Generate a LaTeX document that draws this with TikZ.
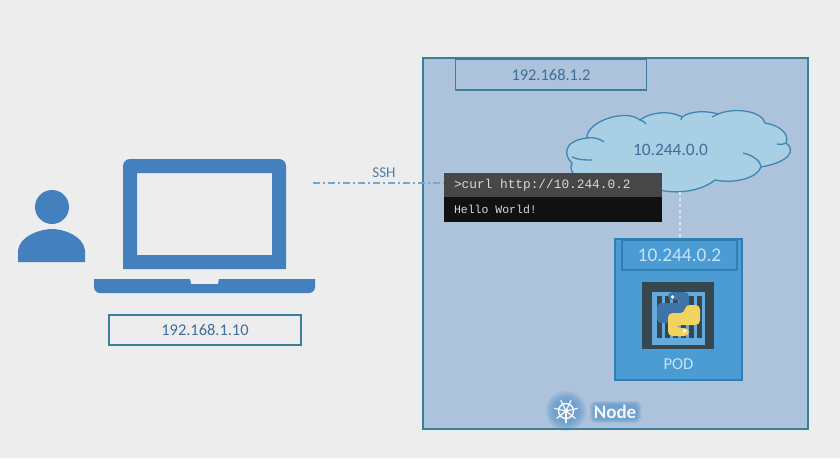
\documentclass[tikz,border=0pt]{standalone}
\usepackage{fontspec}
\setmainfont{Carlito}
\newfontfamily\termfont{Liberation Mono}
\usetikzlibrary{shapes.geometric, positioning}
\definecolor{bgrey}{HTML}{EDEDED}
\definecolor{nodeblue}{HTML}{ADC3DB}
\definecolor{edgeteal}{HTML}{3C7F9C}
\definecolor{lapblue}{HTML}{4480BE}
\definecolor{ipink}{HTML}{3F6E99}
\definecolor{cloudblue}{HTML}{A9CFE5}
\definecolor{cloudedge}{HTML}{3F86B3}
\definecolor{podblue}{HTML}{4B9BD5}
\definecolor{podedge}{HTML}{2F7FB3}
\definecolor{podtext}{HTML}{C5E3F5}
\definecolor{sshblue}{HTML}{6FA8D0}
\definecolor{termtop}{HTML}{474747}
\definecolor{termbot}{HTML}{111111}
\definecolor{iconbox}{HTML}{37474F}
\definecolor{pyblue}{HTML}{3F74A8}
\definecolor{pyyellow}{HTML}{F2D35F}
\def\termspace{\spaceskip=.6em\relax}
\tikzstyle{ipbox} = [rectangle, draw=edgeteal, line width=1.6pt, text=ipink, font=\fontsize{16.4}{18}\selectfont]
\tikzstyle{term} = [rectangle, inner sep=0pt, outer sep=0pt, minimum width=218pt, text=white!85!black, align=left, text width=198pt]
\tikzstyle{aro} = [line width=1.1pt, sshblue, dash pattern=on 7pt off 3pt on 2pt off 3pt]
\tikzstyle{cloudline} = [cloudedge, line width=1.3pt]

\begin{document}
\begin{tikzpicture}[x=1pt,y=-1pt]

  \useasboundingbox (0,0) rectangle (840,458);
  \fill[bgrey] (0,0) rectangle (840,458);

  % user and laptop
  \fill[lapblue] (52,207) circle (17);
  \fill[lapblue] (18,262) -- (18,250) .. controls (20,236) and (40,229) .. (52,229)
    .. controls (64,229) and (83,236) .. (85,250) -- (85,262) -- cycle;
  \fill[lapblue, even odd rule] (123,269) [rounded corners=7pt] -- (123,159) -- (286,159) [sharp corners] -- (286,269) -- cycle
    (137,173) rectangle (272,255);
  \fill[lapblue] (94,279) -- (190,279) -- (191,284) -- (218,284) -- (219,279) -- (315,279)
    [rounded corners=6pt] -- (315,293) -- (94,293) [sharp corners] -- cycle;
  \node (laptopip) [ipbox, minimum width=192pt, minimum height=30pt] at (205,330) {192.168.1.10};

  % node box
  \node (nodebox) [rectangle, draw=edgeteal, fill=nodeblue, line width=1.6pt, minimum width=385pt, minimum height=371pt] at (615.5,243.5) {};
  \node (nodeip) [ipbox, minimum width=191pt, minimum height=31pt] at (551,74.5) {192.168.1.2};

  % cloud
  \filldraw[cloudline, fill=cloudblue]
    (572,163) .. controls (564,156) and (562,141) .. (587,138)
    .. controls (586,122) and (625,108) .. (640,120)
    .. controls (650,112) and (670,110) .. (682,117)
    .. controls (692,110) and (708,111) .. (718,114)
    .. controls (735,107) and (762,111) .. (765,123)
    .. controls (778,125) and (790,133) .. (786,143)
    .. controls (796,150) and (790,162) .. (761,167)
    .. controls (757,178) and (735,184) .. (715,180)
    .. controls (700,192) and (675,194) .. (660,190)
    -- (600,185) .. controls (585,182) and (566,175) .. (572,163) -- cycle;
  \draw[cloudline] (572,157) .. controls (578,160) and (585,160) .. (592,160);
  \draw[cloudline] (587,138) .. controls (595,137) and (600,139) .. (604,142);
  \draw[cloudline] (640,120) .. controls (643,121) and (645,122) .. (646,124);
  \draw[cloudline] (682,117) .. controls (682,118) and (681,119) .. (681,120);
  \draw[cloudline] (718,114) .. controls (716,115) and (714,116) .. (712,117);
  \draw[cloudline] (786,143) .. controls (784,144) and (780,145) .. (777,144);
  \draw[cloudline] (743,153) .. controls (752,155) and (760,160) .. (761,167);
  \node (cloudip) [text=ipink, font=\fontsize{17.4}{19}\selectfont] at (670.5,149.5) {10.244.0.0};
  \coordinate (cloudfoot) at (680,192);

  % pod
  \node (podbox) [rectangle, draw=podedge, fill=podblue, line width=1.4pt, minimum width=127pt, minimum height=141pt] at (678.5,309.5) {};
  \node (podip) [rectangle, draw=podedge, line width=1.4pt, text=podtext, font=\fontsize{19.4}{21}\selectfont, minimum width=115pt, minimum height=30pt] at (679.5,255) {10.244.0.2};
  \draw[white!55!nodeblue, line width=1.3pt, dashed] (cloudfoot) -- (podip.north -| cloudfoot);

  \node (podicon) [rectangle, fill=iconbox, minimum width=72pt, minimum height=67pt, inner sep=0pt] at (678,315.5) {};
  \fill[podblue!85!white] (652,292) rectangle (705,345);
  \foreach \barx in {657,665,673,681,689,697}
    \fill[iconbox] (\barx,296) rectangle +(4.5,42);
  \fill[pyblue, rounded corners=4.5pt] (668,292) -- (689,292) -- (689,315) -- (672,315) -- (672,323) -- (657,323) -- (657,303) -- (681,303) -- (681,300) -- (668,300) -- cycle;
  \fill[pyyellow, rounded corners=4.5pt] (689,336) -- (668,336) -- (668,313) -- (685,313) -- (685,305) -- (700,305) -- (700,325) -- (676,325) -- (676,328) -- (689,328) -- cycle;
  \fill[white] (672.5,297) circle (1.8) (684.5,331) circle (1.8);
  \node (podlabel) [text=podtext, font=\fontsize{16.7}{18}\selectfont] at (678.5,364.5) {POD};

  % terminal
  \node (termcurl) [term, fill=termtop, minimum height=24pt, font=\termfont\fontsize{12.8}{15}\selectfont] at (553,185) {\termspace >curl http://10.244.0.2};
  \node (termhello) [term, fill=termbot, minimum height=25pt, below=0pt of termcurl, font=\termfont\fontsize{11.5}{14}\selectfont] {\termspace Hello World!};

  % ssh link
  \coordinate (sshstart) at (313,183);
  \draw[aro] (sshstart) -- (sshstart -| termcurl.west);
  \node (sshlabel) [text=ipink!70!sshblue, font=\fontsize{15}{17}\selectfont] at (384,173) {SSH};

  % kubernetes badge
  \foreach \glowr in {20,18,16,14,12}
    \fill[lapblue!60!podblue, opacity=0.16] (566,411) circle (\glowr);
  \foreach \glowp in {4,3,2,1,0}
    \fill[lapblue!60!podblue, opacity=0.16, rounded corners=5pt] (594-\glowp,405-\glowp) rectangle (637+\glowp,419+\glowp);
  \node (wheel) [circle, draw=white!90!nodeblue, line width=1.4pt, minimum size=15pt, inner sep=0pt] at (566,411) {};
  \foreach \spoke in {0,51.4,...,360}
    \draw[white!90!nodeblue, line width=1.2pt] (wheel.center) -- ++(\spoke+90:12);
  \fill[white!90!nodeblue] (wheel.center) circle (2.2);
  \node (nodelabel) [text=white!85!nodeblue, font=\fontsize{19}{21}\selectfont\bfseries] at (615,412) {Node};

\end{tikzpicture}
\end{document}
